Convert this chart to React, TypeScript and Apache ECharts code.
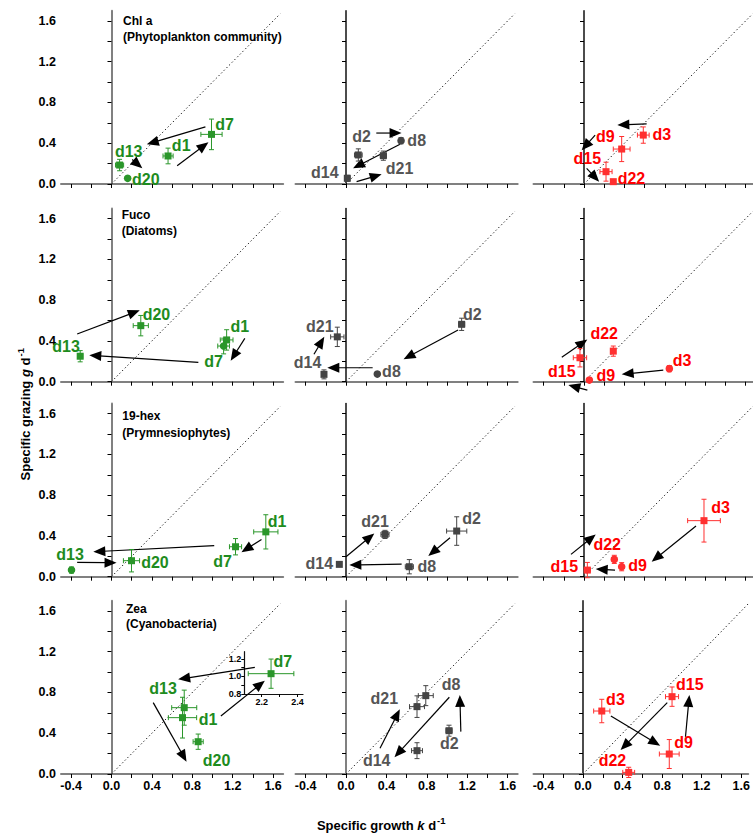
import React, { useEffect, useRef } from "react";
import * as echarts from "echarts";

const S = 0; // square marker
const C = 1; // circle marker

// ---------------- Chl a (Phytoplankton community) ----------------
const chlA1Names = ["d1", "d7", "d13", "d20"];
const chlA1Points = [[0.56, 0.275, 0.05, 0.077, S], [0.99, 0.487, 0.105, 0.15, S], [0.08, 0.186, 0.04, 0.056, S], [0.16, 0.056, 0, 0, C]];
const chlA1LabelAt = [[0.69, 0.38], [1.12, 0.585], [0.17, 0.32], [0.34, 0.04]];
const chlA1Arrows = [[0.65, 0.18, 0.96, 0.41], [0.93, 0.56, 0.35, 0.39], [0.205, 0.24, 0.305, 0.155]];

const chlA2Names = ["d2", "d8", "d14", "d21"];
const chlA2Points = [[0.122, 0.285, 0.038, 0.06, S], [0.545, 0.425, 0.012, 0.03, C], [0.013, 0.056, 0.025, 0.03, S], [0.37, 0.278, 0.03, 0.045, S]];
const chlA2LabelAt = [[0.155, 0.465], [0.7, 0.43], [-0.21, 0.115], [0.53, 0.155]];
const chlA2Arrows = [[0.3, 0.5, 0.55, 0.5], [0.535, 0.39, 0.07, 0.155], [0.105, 0.023, 0.353, 0.095]];

const chlA3Names = ["d3", "d9", "d15", "d22"];
const chlA3Points = [[0.587, 0.48, 0.058, 0.08, S], [0.373, 0.343, 0.083, 0.123, S], [0.218, 0.121, 0.06, 0.093, S], [0.29, 0.023, 0, 0, S]];
const chlA3LabelAt = [[0.77, 0.49], [0.21, 0.465], [0.033, 0.25], [0.47, 0.056]];
const chlA3Arrows = [[0.62, 0.59, 0.33, 0.58], [0.11, 0.48, -0.023, 0.33], [0.026, 0.154, 0.15, 0.023]];

// ---------------- Fuco (Diatoms) ----------------
const fuco1Names = ["d1", "d7", "d13", "d20"];
const fuco1Points = [[1.14, 0.41, 0.063, 0.1, S], [1.11, 0.35, 0.058, 0.077, C], [-0.31, 0.25, 0.025, 0.055, S], [0.29, 0.55, 0.075, 0.1, S]];
const fuco1LabelAt = [[1.27, 0.54], [1.01, 0.2], [-0.45, 0.35], [0.445, 0.664]];
const fuco1Arrows = [[1.32, 0.425, 1.18, 0.206], [0.86, 0.19, -0.22, 0.26], [-0.34, 0.468, 0.28, 0.7]];

const fuco2Names = ["d2", "d8", "d14", "d21"];
const fuco2Points = [[1.145, 0.563, 0.03, 0.06, S], [0.31, 0.075, 0.01, 0.02, C], [-0.218, 0.072, 0.015, 0.044, S], [-0.086, 0.44, 0.066, 0.095, S]];
const fuco2LabelAt = [[1.25, 0.66], [0.45, 0.098], [-0.38, 0.186], [-0.26, 0.546]];
const fuco2Arrows = [[1.11, 0.507, 0.57, 0.22], [0.264, 0.137, -0.185, 0.137], [-0.317, 0.27, -0.215, 0.44]];

const fuco3Names = ["d3", "d9", "d15", "d22"];
const fuco3Points = [[0.845, 0.128, 0.01, 0.03, C], [0.053, 0.016, 0.02, 0.02, C], [-0.04, 0.235, 0.066, 0.09, S], [0.29, 0.3, 0.02, 0.05, S]];
const fuco3LabelAt = [[0.97, 0.206], [0.215, 0.059], [-0.22, 0.098], [0.2, 0.47]];
const fuco3Arrows = [[0.785, 0.114, 0.373, 0.072], [0.033, -0.082, -0.155, -0.033], [-0.22, 0.24, 0.033, 0.415]];

// ---------------- 19-hex (Prymnesiophytes) ----------------
const hex1Names = ["d1", "d7", "d13", "d20"];
const hex1Points = [[1.528, 0.44, 0.12, 0.168, S], [1.228, 0.294, 0.06, 0.08, S], [-0.396, 0.065, 0.01, 0.03, C], [0.198, 0.157, 0.08, 0.11, S]];
const hex1LabelAt = [[1.64, 0.546], [1.1, 0.154], [-0.41, 0.22], [0.43, 0.137]];
const hex1Arrows = [[1.485, 0.366, 1.287, 0.24], [1.017, 0.304, -0.18, 0.245], [-0.34, 0.14, 0.05, 0.137]];

const hex2Names = ["d2", "d8", "d14", "d21"];
const hex2Points = [[1.096, 0.448, 0.1, 0.14, S], [0.627, 0.098, 0.04, 0.07, S], [-0.066, 0.121, 0, 0, S], [0.386, 0.415, 0.04, 0.04, S]];
const hex2LabelAt = [[1.244, 0.572], [0.8, 0.098], [-0.264, 0.131], [0.287, 0.546]];
const hex2Arrows = [[1.03, 0.383, 0.815, 0.203], [0.551, 0.124, 0.033, 0.114], [0, 0.196, 0.28, 0.425]];

const hex3Names = ["d3", "d9", "d15", "d22"];
const hex3Points = [[1.188, 0.55, 0.162, 0.21, S], [0.373, 0.098, 0.01, 0.04, C], [0.033, 0.065, 0.03, 0.075, S], [0.3, 0.17, 0.01, 0.04, C]];
const hex3LabelAt = [[1.353, 0.68], [0.53, 0.108], [-0.195, 0.105], [0.23, 0.32]];
const hex3Arrows = [[1.109, 0.497, 0.67, 0.147], [0.307, 0.065, 0.116, 0.075], [-0.129, 0.219, 0.116, 0.415]];

// ---------------- Zea (Cyanobacteria) ----------------
const zea1Names = ["d1", "d13", "d20"];
const zea1Points = [[0.703, 0.553, 0.14, 0.2, S], [0.72, 0.651, 0.124, 0.172, S], [0.858, 0.317, 0.05, 0.075, S]];
const zea1LabelAt = [[0.957, 0.53], [0.51, 0.84], [1.04, 0.137]];
const zea1Arrows = [[1.083, 0.569, 1.518, 0.916], [1.419, 1.047, 0.66, 0.929], [0.413, 0.7, 0.743, 0.121]];
// d7 is off scale and shown in the inset
const zea1InsetNames = ["d7"];
const zea1InsetPoints = [[2.252, 1.032, 0.127, 0.167, S]];
const zea1InsetLabelAt = [[2.317, 1.169]];

const zea2Names = ["d2", "d8", "d14", "d21"];
const zea2Points = [[1.02, 0.425, 0.03, 0.054, S], [0.79, 0.769, 0.074, 0.098, S], [0.703, 0.229, 0.054, 0.078, S], [0.703, 0.661, 0.074, 0.106, S]];
const zea2LabelAt = [[1.023, 0.3], [1.04, 0.874], [0.304, 0.131], [0.38, 0.743]];
const zea2Arrows = [[1.137, 0.416, 1.127, 0.776], [1.023, 0.753, 0.48, 0.164], [0.337, 0.252, 0.533, 0.635]];

const zea3Names = ["d3", "d9", "d15", "d22"];
const zea3Points = [[0.19, 0.618, 0.082, 0.115, S], [0.872, 0.196, 0.1, 0.142, S], [0.9, 0.759, 0.066, 0.095, S], [0.462, 0.016, 0.06, 0.05, S]];
const zea3LabelAt = [[0.328, 0.736], [1.016, 0.308], [1.08, 0.874], [0.298, 0.128]];
const zea3Arrows = [[0.282, 0.569, 0.78, 0.278], [1.036, 0.366, 1.075, 0.776], [0.852, 0.7, 0.38, 0.236]];

const PIGMENTS = ["Chl a", "Fuco", "19-hex", "Zea"];
const GROUPS = ["(Phytoplankton community)", "(Diatoms)", "(Prymnesiophytes)", "(Cyanobacteria)"];

const X_LABELS = [-0.4, 0, 0.4, 0.8, 1.2, 1.6];
const X_TICKS = [-0.4, -0.2, 0, 0.2, 0.4, 0.6, 0.8, 1.0, 1.2, 1.4, 1.6];
const Y_LABELS = [0, 0.4, 0.8, 1.2, 1.6];
const Y_TICKS = [0, 0.2, 0.4, 0.6, 0.8, 1.0, 1.2, 1.4, 1.6];
const INSET_X_LABELS = [2.2, 2.4];
const INSET_X_TICKS = [2.2, 2.3, 2.4];
const INSET_Y_LABELS = [0.8, 1.0, 1.2];
const INSET_Y_TICKS = [0.8, 0.9, 1.0, 1.1, 1.2];
const ONE_TO_ONE = [[0, 0], [1.67, 1.67]];

const PANELS = [
  [chlA1Names, chlA1Points, chlA1LabelAt, chlA1Arrows],
  [chlA2Names, chlA2Points, chlA2LabelAt, chlA2Arrows],
  [chlA3Names, chlA3Points, chlA3LabelAt, chlA3Arrows],
  [fuco1Names, fuco1Points, fuco1LabelAt, fuco1Arrows],
  [fuco2Names, fuco2Points, fuco2LabelAt, fuco2Arrows],
  [fuco3Names, fuco3Points, fuco3LabelAt, fuco3Arrows],
  [hex1Names, hex1Points, hex1LabelAt, hex1Arrows],
  [hex2Names, hex2Points, hex2LabelAt, hex2Arrows],
  [hex3Names, hex3Points, hex3LabelAt, hex3Arrows],
  [zea1Names, zea1Points, zea1LabelAt, zea1Arrows],
  [zea2Names, zea2Points, zea2LabelAt, zea2Arrows],
  [zea3Names, zea3Points, zea3LabelAt, zea3Arrows],
];

const FONT = '"Liberation Sans", Arial, Helvetica, sans-serif';
const TEXT_COLORS = ["#1e8c1e", "#555555", "#ff0000"];
const BAR_COLORS = ["#2a962a", "#444444", "#ff3030"];

// layout (pixels)
const COL_ZERO = [111.5, 346, 584];
const ROW_ZERO = [184, 381.7, 576.7, 774];
const SX = 101;
const SY = 101.9;
const XMIN = -0.5;
const YMAX = 1.7;
const XMAX = [1.7, 1.7, 1.67];
const TITLE_POS = [[123, 21, 36.7], [121.7, 215, 230.7], [122.3, 416, 433.3], [126, 609.3, 624]];

const fmt = (v: number) => v.toFixed(1);

function pointSeries(gi: number, pts: number[][], color: string) {
  return {
    type: "custom",
    xAxisIndex: gi,
    yAxisIndex: gi,
    clip: false,
    silent: true,
    z: 4,
    data: pts,
    encode: { x: 0, y: 1 },
    renderItem: (_p: any, api: any) => {
      const x = api.value(0), y = api.value(1), ex = api.value(2), ey = api.value(3), sh = api.value(4);
      const c = api.coord([x, y]);
      const ls = { stroke: color, lineWidth: 1 };
      const cap = 2.5;
      const ch: any[] = [];
      if (ex > 0) {
        const l = api.coord([x - ex, y]);
        const r = api.coord([x + ex, y]);
        ch.push({ type: "line", shape: { x1: l[0], y1: l[1], x2: r[0], y2: r[1] }, style: ls });
        ch.push({ type: "line", shape: { x1: l[0], y1: l[1] - cap, x2: l[0], y2: l[1] + cap }, style: ls });
        ch.push({ type: "line", shape: { x1: r[0], y1: r[1] - cap, x2: r[0], y2: r[1] + cap }, style: ls });
      }
      if (ey > 0) {
        const t = api.coord([x, y + ey]);
        const b = api.coord([x, y - ey]);
        ch.push({ type: "line", shape: { x1: t[0], y1: t[1], x2: b[0], y2: b[1] }, style: ls });
        ch.push({ type: "line", shape: { x1: t[0] - cap, y1: t[1], x2: t[0] + cap, y2: t[1] }, style: ls });
        ch.push({ type: "line", shape: { x1: b[0] - cap, y1: b[1], x2: b[0] + cap, y2: b[1] }, style: ls });
      }
      if (sh === C) {
        ch.push({ type: "circle", shape: { cx: c[0], cy: c[1], r: 3.8 }, style: { fill: color } });
      } else {
        ch.push({ type: "rect", shape: { x: c[0] - 3.5, y: c[1] - 3.5, width: 7, height: 7 }, style: { fill: color } });
      }
      return { type: "group", children: ch };
    },
  };
}

function labelSeries(gi: number, names: string[], at: number[][], color: string) {
  return {
    type: "custom",
    xAxisIndex: gi,
    yAxisIndex: gi,
    clip: false,
    silent: true,
    z: 5,
    data: at,
    encode: { x: 0, y: 1 },
    renderItem: (p: any, api: any) => {
      const c = api.coord([api.value(0), api.value(1)]);
      return {
        type: "text",
        x: c[0],
        y: c[1],
        style: {
          text: names[p.dataIndex],
          fill: color,
          fontSize: 16,
          fontWeight: "bold",
          fontFamily: FONT,
          align: "center",
          verticalAlign: "middle",
        },
      };
    },
  };
}

function arrowSeries(gi: number, arrows: number[][]) {
  return {
    type: "custom",
    xAxisIndex: gi,
    yAxisIndex: gi,
    clip: false,
    silent: true,
    z: 3,
    data: arrows,
    encode: { x: [0, 2], y: [1, 3] },
    renderItem: (_p: any, api: any) => {
      const a = api.coord([api.value(0), api.value(1)]);
      const b = api.coord([api.value(2), api.value(3)]);
      const dx = b[0] - a[0], dy = b[1] - a[1];
      const len = Math.hypot(dx, dy) || 1;
      const ux = dx / len, uy = dy / len;
      const hl = 12, hw = 5;
      const bx = b[0] - ux * hl, by = b[1] - uy * hl;
      return {
        type: "group",
        children: [
          { type: "line", shape: { x1: a[0], y1: a[1], x2: bx + ux * 2, y2: by + uy * 2 }, style: { stroke: "#000", lineWidth: 1.2 } },
          {
            type: "polygon",
            shape: { points: [[b[0], b[1]], [bx - uy * hw, by + ux * hw], [bx + uy * hw, by - ux * hw]] },
            style: { fill: "#000" },
          },
        ],
      };
    },
  };
}

function axisTitle(x: number, y: number, rotation: number, main: string, italic: string, supX: number) {
  const base = { fontSize: 13, fontWeight: "bold", fontFamily: FONT, fill: "#000" };
  return {
    type: "group",
    x,
    y,
    rotation,
    children: [
      {
        type: "text",
        x: -4,
        y: 0,
        style: {
          text: "{n|" + main + "}{i|" + italic + "}{n| d}",
          rich: { n: { ...base }, i: { ...base, fontStyle: "italic" } },
          align: "center",
          verticalAlign: "middle",
        },
      },
      {
        type: "text",
        x: supX,
        y: -5,
        style: { text: "-1", fontSize: 9.5, fontWeight: "bold", fontFamily: FONT, fill: "#000", align: "left", verticalAlign: "middle" },
      },
    ],
  };
}

export default function App() {
  const ref = useRef<HTMLDivElement>(null);
  useEffect(() => {
    if (!ref.current) return;
    const chart = echarts.init(ref.current, undefined, { renderer: "svg" });
    const grids: any[] = [];
    const xAxes: any[] = [];
    const yAxes: any[] = [];
    const series: any[] = [];
    const labelStyle = { color: "#000", fontWeight: "bold", fontSize: 12.5, fontFamily: FONT };

    for (let r = 0; r < 4; r++) {
      for (let c = 0; c < 3; c++) {
        const gi = r * 3 + c;
        grids.push({
          left: COL_ZERO[c] + XMIN * SX,
          top: ROW_ZERO[r] - YMAX * SY,
          width: (XMAX[c] - XMIN) * SX,
          height: YMAX * SY,
        });
        xAxes.push({
          gridIndex: gi,
          type: "value",
          min: XMIN,
          max: XMAX[c],
          axisLine: { onZero: true, lineStyle: { color: "#808080", width: 2 } },
          axisTick: { show: true, customValues: X_TICKS, length: 4, lineStyle: { color: "#000", width: 1 } },
          axisLabel: { show: r === 3, customValues: X_LABELS, formatter: fmt, margin: 5, ...labelStyle },
          splitLine: { show: false },
        });
        const grayY = c === 0 || (r === 3 && c === 1);
        yAxes.push({
          gridIndex: gi,
          type: "value",
          min: 0,
          max: YMAX,
          axisLine: { show: true, onZero: true, lineStyle: { color: grayY ? "#808080" : "#111", width: grayY ? 2 : 1.5 } },
          axisTick: { show: true, customValues: Y_TICKS, length: 4, lineStyle: { color: "#000", width: 1 } },
          axisLabel: { show: c === 0, customValues: Y_LABELS, formatter: fmt, margin: 5, ...labelStyle },
          splitLine: { show: false },
        });
        const [names, pts, at, arrows] = PANELS[gi] as any;
        series.push({
          type: "line",
          xAxisIndex: gi,
          yAxisIndex: gi,
          data: ONE_TO_ONE,
          symbol: "none",
          silent: true,
          z: 1,
          lineStyle: { color: "#000", width: 1, type: [1.2, 2.6] },
        });
        series.push(arrowSeries(gi, arrows));
        series.push(pointSeries(gi, pts, BAR_COLORS[c]));
        series.push(labelSeries(gi, names, at, TEXT_COLORS[c]));
      }
    }

    // inset for off-scale d7 (Zea, column 1)
    const ig = 12;
    grids.push({ left: 244.3, top: 651.7, width: 58.7, height: 42.3 });
    const insetLabel = { color: "#000", fontWeight: "bold", fontSize: 9, fontFamily: FONT, margin: 3 };
    xAxes.push({
      gridIndex: ig,
      type: "value",
      min: 2.103,
      max: 2.43,
      axisLine: { onZero: false, lineStyle: { color: "#111", width: 1.2 } },
      axisTick: { show: true, customValues: INSET_X_TICKS, length: 3, lineStyle: { color: "#000" } },
      axisLabel: { customValues: INSET_X_LABELS, formatter: fmt, ...insetLabel },
      splitLine: { show: false },
    });
    yAxes.push({
      gridIndex: ig,
      type: "value",
      min: 0.8,
      max: 1.283,
      axisLine: { show: true, onZero: false, lineStyle: { color: "#111", width: 1.2 } },
      axisTick: { show: true, customValues: INSET_Y_TICKS, length: 3, lineStyle: { color: "#000" } },
      axisLabel: { customValues: INSET_Y_LABELS, formatter: fmt, ...insetLabel },
      splitLine: { show: false },
    });
    series.push(pointSeries(ig, zea1InsetPoints, BAR_COLORS[0]));
    series.push(labelSeries(ig, zea1InsetNames, zea1InsetLabelAt, TEXT_COLORS[0]));

    const graphic: any[] = [];
    for (let r = 0; r < 4; r++) {
      const [tx, y1, y2] = TITLE_POS[r];
      graphic.push({
        type: "text", x: tx, y: y1,
        style: { text: PIGMENTS[r], fill: "#000", fontSize: 12, fontWeight: "bold", fontFamily: FONT, verticalAlign: "middle", align: "left" },
      });
      graphic.push({
        type: "text", x: tx, y: y2,
        style: { text: GROUPS[r], fill: "#000", fontSize: 12, fontWeight: "bold", fontFamily: FONT, verticalAlign: "middle", align: "left" },
      });
    }
    graphic.push(axisTitle(380.5, 825, 0, "Specific growth ", "k", 56.5));
    graphic.push(axisTitle(25, 415, Math.PI / 2, "Specific grazing ", "g", 58.5));

    chart.setOption({
      animation: false,
      backgroundColor: "#fff",
      grid: grids,
      xAxis: xAxes,
      yAxis: yAxes,
      series,
      graphic,
    });
    return () => chart.dispose();
  }, []);
  return <div ref={ref} style={{ position: "absolute", left: 0, top: 0, width: 753, height: 834 }} />;
}
